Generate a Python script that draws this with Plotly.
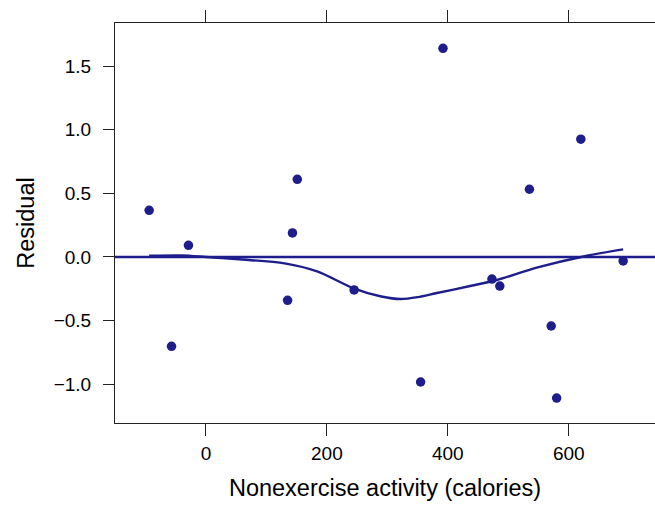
import plotly.graph_objects as go

# Data
nea = [-94, -57, -29, 135, 143, 151, 245, 355, 392, 473, 486, 535, 571, 580, 620, 690]
residual = [0.367, -0.702, 0.092, -0.340, 0.189, 0.610, -0.259, -0.982, 1.639,
            -0.173, -0.228, 0.532, -0.542, -1.108, 0.925, -0.031]

# Smoothed (loess) curve
smooth_x = [-94, -40, 0, 60, 130, 185, 244, 290, 322, 350, 380, 437, 481, 547, 630, 690]
smooth_y = [0.010, 0.012, 0.0, -0.02, -0.05, -0.115, -0.246, -0.31, -0.330, -0.315,
            -0.285, -0.228, -0.181, -0.084, 0.010, 0.060]

x_ticks = [0, 200, 400, 600]
y_ticks = [-1.0, -0.5, 0.0, 0.5, 1.0, 1.5]

COL = "#1d1d8c"
AX = "#222222"
FONT = "Liberation Sans, Arial, Helvetica, sans-serif"

fig = go.Figure()
fig.add_hline(y=0, line=dict(color=COL, width=2.4))
fig.add_trace(go.Scatter(x=smooth_x, y=smooth_y, mode="lines",
                         line=dict(color=COL, width=2.4, shape="spline", smoothing=0.8),
                         hoverinfo="skip", showlegend=False))
fig.add_trace(go.Scatter(x=nea, y=residual, mode="markers",
                         marker=dict(color=COL, size=9.5, line=dict(width=0)),
                         showlegend=False))

fig.update_layout(
    width=655, height=506,
    margin=dict(l=115, r=0, t=23, b=83),
    paper_bgcolor="white", plot_bgcolor="white",
    font=dict(family=FONT, color="black"),
)
fig.update_xaxes(
    range=[-150.5, 742.7], tickvals=x_ticks, ticktext=[str(v) for v in x_ticks],
    showgrid=False, zeroline=False,
    showline=True, linecolor=AX, linewidth=1, mirror="ticks",
    ticks="outside", ticklen=12, tickwidth=1, tickcolor=AX,
    tickfont=dict(size=19, family=FONT, color="black"),
    ticklabelstandoff=1,
    title=dict(text="Nonexercise activity (calories)", font=dict(size=23.5, family=FONT, color="black"),
               standoff=16),
)
fig.update_yaxes(
    range=[-1.304, 1.838], tickvals=y_ticks, tickformat=".1f",
    showgrid=False, zeroline=False,
    showline=True, linecolor=AX, linewidth=1, mirror=False,
    ticks="outside", ticklen=11, tickwidth=1, tickcolor=AX,
    tickfont=dict(size=19, family=FONT, color="black"),
    ticklabelstandoff=8,
    title=dict(text="Residual", font=dict(size=23.5, family=FONT, color="black"), standoff=12),
)

fig.write_html("out.html")
